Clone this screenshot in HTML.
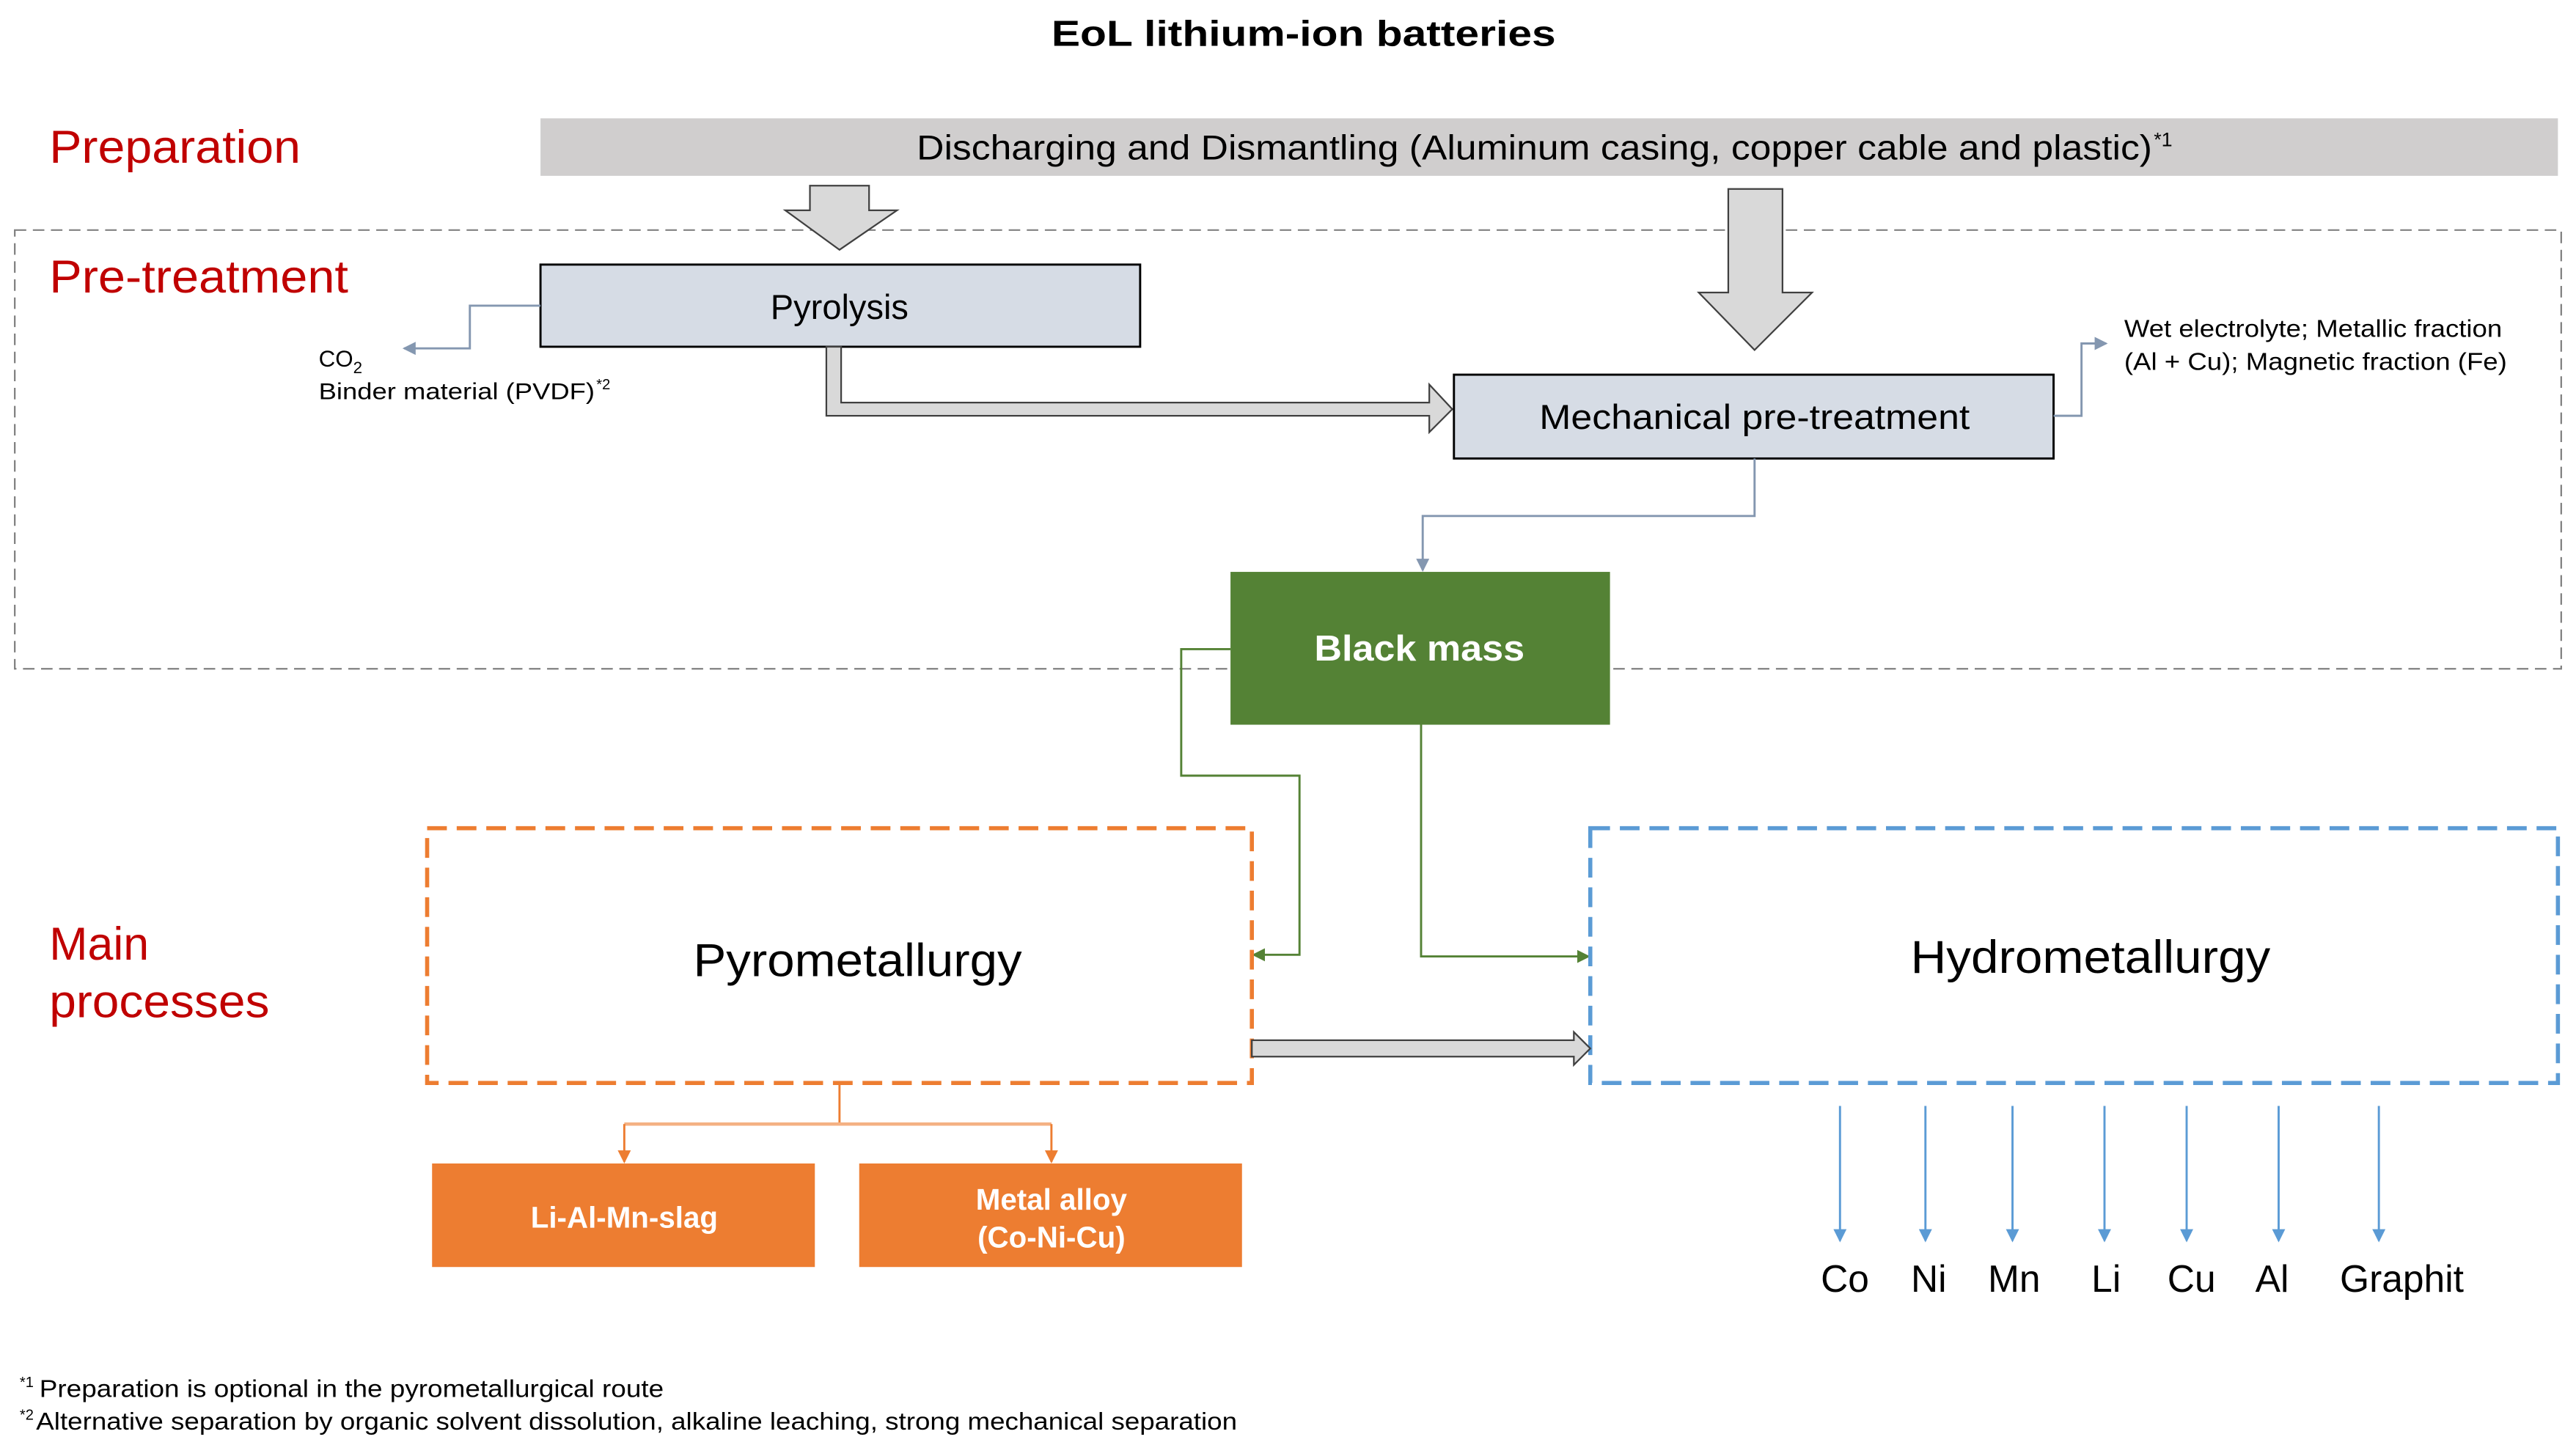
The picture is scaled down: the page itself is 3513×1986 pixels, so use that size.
<!DOCTYPE html>
<html><head><meta charset="utf-8"><style>
html,body{margin:0;padding:0;background:#fff}
svg{display:block}
text{font-family:"Liberation Sans",Arial,sans-serif}
</style></head><body>
<svg width="3513" height="1986" viewBox="0 0 1568 886" preserveAspectRatio="none" xmlns="http://www.w3.org/2000/svg">
<defs>
<marker id="ab" markerWidth="8" markerHeight="8" refX="7" refY="4" orient="auto" markerUnits="userSpaceOnUse"><path d="M0,0 L8,4 L0,8 z" fill="#8497b0"/></marker>
<marker id="ag" markerWidth="8" markerHeight="8" refX="7" refY="4" orient="auto" markerUnits="userSpaceOnUse"><path d="M0,0 L8,4 L0,8 z" fill="#548235"/></marker>
<marker id="ao" markerWidth="8" markerHeight="8" refX="7" refY="4" orient="auto" markerUnits="userSpaceOnUse"><path d="M0,0 L8,4 L0,8 z" fill="#ed7d31"/></marker>
<marker id="au" markerWidth="8" markerHeight="8" refX="7" refY="4" orient="auto" markerUnits="userSpaceOnUse"><path d="M0,0 L8,4 L0,8 z" fill="#5b9bd5"/></marker>
</defs>
<text x="640" y="28" font-size="22" font-weight="bold" textLength="307" lengthAdjust="spacingAndGlyphs">EoL lithium-ion  batteries</text>
<text x="30" y="99" font-size="28" fill="#c00000" textLength="153" lengthAdjust="spacingAndGlyphs">Preparation</text>
<rect x="329" y="72" width="1228" height="35" fill="#d0cece"/>
<text x="558" y="97" font-size="21" textLength="752" lengthAdjust="spacingAndGlyphs">Discharging and Dismantling (Aluminum casing, copper cable and plastic)</text>
<text x="1311" y="89" font-size="12">*1</text>
<rect x="9" y="140" width="1550" height="267" fill="none" stroke="#808080" stroke-width="1" stroke-dasharray="7,4"/>
<text x="30" y="178" font-size="28" fill="#c00000" textLength="182" lengthAdjust="spacingAndGlyphs">Pre-treatment</text>
<path d="M493,113 H529 V128 H546 L511,152 L478,128 H493 Z" fill="#d9d9d9" stroke="#404040" stroke-width="1"/>
<path d="M1052,115 H1085 V178 H1103 L1068,213 L1034,178 H1052 Z" fill="#d9d9d9" stroke="#404040" stroke-width="1"/>
<rect x="329" y="161" width="365" height="50" fill="#d6dce5" stroke="#000" stroke-width="1.3"/>
<text x="511" y="194" font-size="21" text-anchor="middle">Pyrolysis</text>
<polyline points="329,186 286,186 286,212 246,212" fill="none" stroke="#8497b0" stroke-width="1.3" marker-end="url(#ab)"/>
<text x="194" y="223" font-size="14">CO<tspan font-size="10" dy="4">2</tspan></text>
<text x="194" y="243" font-size="14" textLength="168" lengthAdjust="spacingAndGlyphs">Binder material (PVDF)</text>
<text x="363" y="237" font-size="9">*2</text>
<path d="M503,211 H512 V245 H870 V234 L884,249 L870,263 V253 H503 Z" fill="#d9d9d9" stroke="#404040" stroke-width="1"/>
<rect x="885" y="228" width="365" height="51" fill="#d6dce5" stroke="#000" stroke-width="1.3"/>
<text x="937" y="261" font-size="21" textLength="262" lengthAdjust="spacingAndGlyphs">Mechanical pre-treatment</text>
<polyline points="1250,253 1267,253 1267,209 1282,209" fill="none" stroke="#8497b0" stroke-width="1.3" marker-end="url(#ab)"/>
<text x="1293" y="205" font-size="15" textLength="230" lengthAdjust="spacingAndGlyphs">Wet electrolyte; Metallic fraction</text>
<text x="1293" y="225" font-size="15" textLength="233" lengthAdjust="spacingAndGlyphs">(Al + Cu); Magnetic fraction (Fe)</text>
<polyline points="1068,279 1068,314 866,314 866,347" fill="none" stroke="#8497b0" stroke-width="1.3" marker-end="url(#ab)"/>
<rect x="749" y="348" width="231" height="93" fill="#548235"/>
<text x="800" y="402" font-size="22" font-weight="bold" fill="#fff" textLength="128" lengthAdjust="spacingAndGlyphs">Black mass</text>
<polyline points="749,395 719,395 719,472 791,472 791,581 763,581" fill="none" stroke="#548235" stroke-width="1.3" marker-end="url(#ag)"/>
<polyline points="865,441 865,582 967,582" fill="none" stroke="#548235" stroke-width="1.3" marker-end="url(#ag)"/>
<text x="30" y="584" font-size="28" fill="#c00000">Main</text>
<text x="30" y="619" font-size="28" fill="#c00000" textLength="134" lengthAdjust="spacingAndGlyphs">processes</text>
<rect x="260" y="504" width="502" height="155" fill="none" stroke="#ed7d31" stroke-width="2.5" stroke-dasharray="12,6"/>
<text x="422" y="594" font-size="28" textLength="200" lengthAdjust="spacingAndGlyphs">Pyrometallurgy</text>
<rect x="968" y="504" width="589" height="155" fill="none" stroke="#5b9bd5" stroke-width="2.5" stroke-dasharray="12,6"/>
<text x="1163" y="592" font-size="28" textLength="219" lengthAdjust="spacingAndGlyphs">Hydrometallurgy</text>
<path d="M762,633 H958 V628 L968,638 L958,648 V643 H762 Z" fill="#d9d9d9" stroke="#404040" stroke-width="1"/>
<polyline points="511,659 511,684" fill="none" stroke="#ed7d31" stroke-width="1.3"/>
<polyline points="380,684 640,684" fill="none" stroke="#f4b183" stroke-width="2"/>
<line x1="380" y1="684" x2="380" y2="707" stroke="#ed7d31" stroke-width="1.3" marker-end="url(#ao)"/>
<line x1="640" y1="684" x2="640" y2="707" stroke="#ed7d31" stroke-width="1.3" marker-end="url(#ao)"/>
<rect x="263" y="708" width="233" height="63" fill="#ed7d31"/>
<text x="380" y="747" font-size="18" font-weight="bold" fill="#fff" text-anchor="middle">Li-Al-Mn-slag</text>
<rect x="523" y="708" width="233" height="63" fill="#ed7d31"/>
<text x="640" y="736" font-size="18" font-weight="bold" fill="#fff" text-anchor="middle">Metal alloy</text>
<text x="640" y="759" font-size="18" font-weight="bold" fill="#fff" text-anchor="middle">(Co-Ni-Cu)</text>
<g stroke="#5b9bd5" stroke-width="1.3">
<line x1="1120" y1="673" x2="1120" y2="755" marker-end="url(#au)"/>
<line x1="1172" y1="673" x2="1172" y2="755" marker-end="url(#au)"/>
<line x1="1225" y1="673" x2="1225" y2="755" marker-end="url(#au)"/>
<line x1="1281" y1="673" x2="1281" y2="755" marker-end="url(#au)"/>
<line x1="1331" y1="673" x2="1331" y2="755" marker-end="url(#au)"/>
<line x1="1387" y1="673" x2="1387" y2="755" marker-end="url(#au)"/>
<line x1="1448" y1="673" x2="1448" y2="755" marker-end="url(#au)"/>
</g>
<g font-size="23" text-anchor="middle">
<text x="1123" y="786">Co</text><text x="1174" y="786">Ni</text><text x="1226" y="786">Mn</text><text x="1282" y="786">Li</text><text x="1334" y="786">Cu</text><text x="1383" y="786">Al</text><text x="1462" y="786">Graphit</text>
</g>
<text x="12" y="844" font-size="9">*1</text>
<text x="24" y="850" font-size="15" textLength="380" lengthAdjust="spacingAndGlyphs">Preparation  is optional  in the  pyrometallurgical  route</text>
<text x="12" y="864" font-size="9">*2</text>
<text x="22" y="870" font-size="15" textLength="731" lengthAdjust="spacingAndGlyphs">Alternative  separation  by organic  solvent  dissolution,  alkaline  leaching,  strong  mechanical  separation</text>
</svg>
</body></html>
